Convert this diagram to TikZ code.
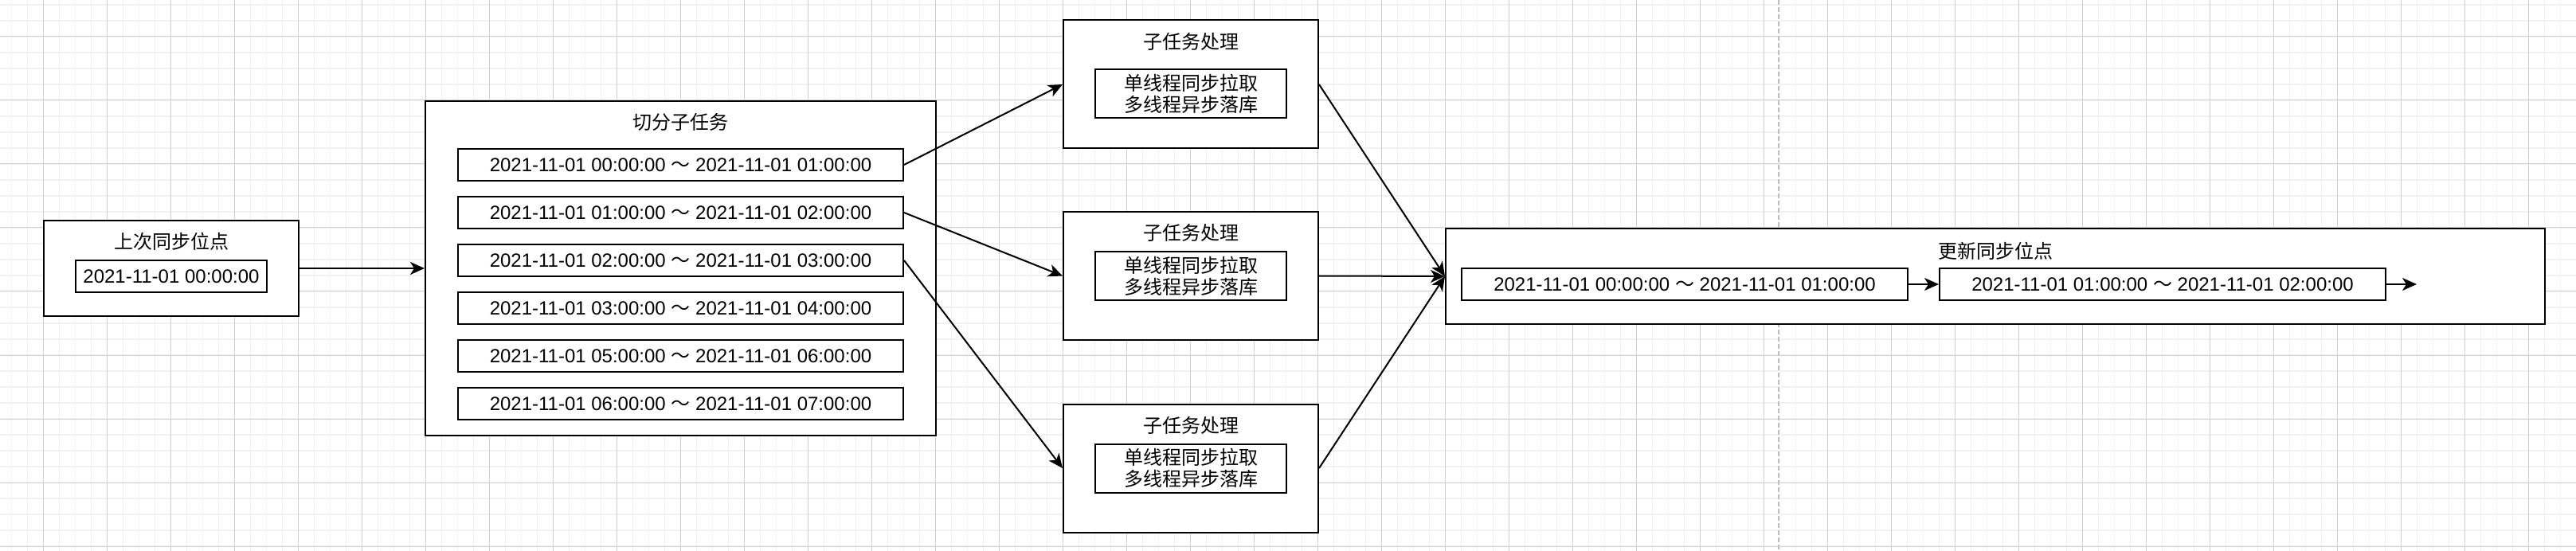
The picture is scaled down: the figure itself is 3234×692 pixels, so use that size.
\documentclass[tikz,border=0pt]{standalone}
\usepackage{fontspec}
\setmainfont{Liberation Sans}
\newfontfamily\cjk{Noto Sans CJK SC}
\usetikzlibrary{arrows.meta}
\newcommand{\wave}{ {\cjk ～} }
\tikzset{
	panel/.style = {draw, fill=white, line width=2pt, inner sep=0pt},
	cell/.style = {draw, fill=white, line width=2pt, inner sep=0pt, minimum height=40pt,
		font=\fontsize{24}{27}\selectfont},
	heading/.style = {inner sep=0pt, font=\fontsize{24}{27}\selectfont\cjk},
	link/.style = {line width=2pt, -{Stealth[length=18pt, width=16pt, inset=5pt]}},
}
\begin{document}
\begin{tikzpicture}[x=1pt, y=-1pt]
	\useasboundingbox (0,0) rectangle (3234,692);
	\fill[white] (0,0) rectangle (3234,692);
	% background grid
	\foreach \x in {14.3,34.3,...,3234} \draw[black!5, line width=1.5pt] (\x,0)--(\x,692);
	\foreach \y in {6,26,...,692} \draw[black!5, line width=1.5pt] (0,\y)--(3234,\y);
	\foreach \x in {54.3,134.3,...,3234} \draw[black!18, line width=1pt] (\x,0)--(\x,692);
	\foreach \y in {46,126,...,692} \draw[black!18, line width=1pt] (0,\y)--(3234,\y);
	\draw[black!25, line width=2pt, dash pattern=on 6pt off 3pt] (2233,0)--(2233,692);

	% last sync point
	\node[panel, minimum width=320pt, minimum height=120pt] (last) at (215,337) {};
	\node[heading] (lasttitle) at (215,303) {上次同步位点};
	\node[cell, minimum width=240pt] (lastpos) at (215,347) {2021-11-01 00:00:00};

	% split into sub tasks
	\node[panel, minimum width=641pt, minimum height=420pt] (split) at (854.5,337) {};
	\node[heading] (splittitle) at (854.5,153) {切分子任务};
	\foreach \i/\a/\b in {1/00/01,2/01/02,3/02/03,4/03/04,5/05/06,6/06/07}
		\node[cell, minimum width=559pt] (r\i) at (854.5,147+60*\i)
			{2021-11-01 \a:00:00\wave 2021-11-01 \b:00:00};

	% sub task workers
	\foreach \i/\y/\c in {1/106/117.5,2/346.5/347,3/588/588} {
		\node[panel, minimum width=320pt, minimum height=161pt] (s\i) at (1495,\y) {};
		\node[heading] (st\i) at (1495,\y-54) {子任务处理};
		\node[cell, minimum width=240pt, minimum height=61pt, align=center,
			font=\fontsize{24}{27}\selectfont\cjk] (sw\i) at (1495,\c) {单线程同步拉取\\多线程异步落库};
	}

	% update sync point
	\node[panel, minimum width=1380pt, minimum height=120pt] (update) at (2505,347) {};
	\node[heading] (updatetitle) at (2505,315) {更新同步位点};
	\node[cell, minimum width=560pt] (u1) at (2115,357) {2021-11-01 00:00:00\wave 2021-11-01 01:00:00};
	\node[cell, minimum width=560pt] (u2) at (2715,357) {2021-11-01 01:00:00\wave 2021-11-01 02:00:00};
	\coordinate (next) at (3034,357);

	\draw[link] (last) -- (split);
	\foreach \i in {1,2,3} {
		\draw[link] (r\i.east) -- (s\i.west);
		\draw[link] (s\i.east) -- (update.west);
	}
	\draw[link] (u1) -- (u2);
	\draw[link] (u2) -- (next);
\end{tikzpicture}
\end{document}
